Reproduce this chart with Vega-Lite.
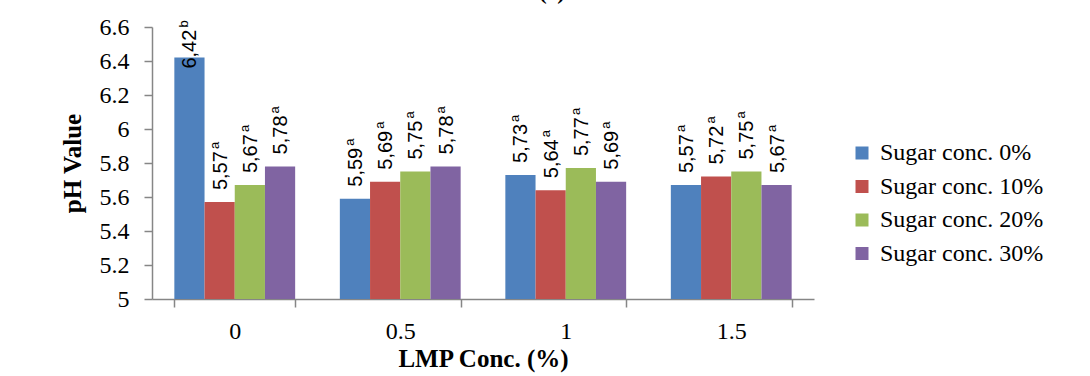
{
  "$schema": "https://vega.github.io/schema/vega-lite/v6.json",
  "width": 662,
  "height": 272,
  "autosize": "none",
  "padding": {"left": 152, "top": 27, "right": 276, "bottom": 77},
  "background": "white",
  "title": {
    "text": "(c)",
    "font": "Liberation Serif",
    "fontSize": 24,
    "fontWeight": "bold",
    "baseline": "alphabetic",
    "anchor": "middle",
    "offset": -8,
    "dx": 69,
    "color": "black"
  },
  "data": {
    "values": [
      {"lmp": "0", "sugar": "Sugar conc. 0%", "ph": 6.42, "lab": "6,42", "sup": "b"},
      {"lmp": "0", "sugar": "Sugar conc. 10%", "ph": 5.57, "lab": "5,57", "sup": "a"},
      {"lmp": "0", "sugar": "Sugar conc. 20%", "ph": 5.67, "lab": "5,67", "sup": "a"},
      {"lmp": "0", "sugar": "Sugar conc. 30%", "ph": 5.78, "lab": "5,78", "sup": "a"},
      {"lmp": "0.5", "sugar": "Sugar conc. 0%", "ph": 5.59, "lab": "5,59", "sup": "a"},
      {"lmp": "0.5", "sugar": "Sugar conc. 10%", "ph": 5.69, "lab": "5,69", "sup": "a"},
      {"lmp": "0.5", "sugar": "Sugar conc. 20%", "ph": 5.75, "lab": "5,75", "sup": "a"},
      {"lmp": "0.5", "sugar": "Sugar conc. 30%", "ph": 5.78, "lab": "5,78", "sup": "a"},
      {"lmp": "1", "sugar": "Sugar conc. 0%", "ph": 5.73, "lab": "5,73", "sup": "a"},
      {"lmp": "1", "sugar": "Sugar conc. 10%", "ph": 5.64, "lab": "5,64", "sup": "a"},
      {"lmp": "1", "sugar": "Sugar conc. 20%", "ph": 5.77, "lab": "5,77", "sup": "a"},
      {"lmp": "1", "sugar": "Sugar conc. 30%", "ph": 5.69, "lab": "5,69", "sup": "a"},
      {"lmp": "1.5", "sugar": "Sugar conc. 0%", "ph": 5.67, "lab": "5,57", "sup": "a"},
      {"lmp": "1.5", "sugar": "Sugar conc. 10%", "ph": 5.72, "lab": "5,72", "sup": "a"},
      {"lmp": "1.5", "sugar": "Sugar conc. 20%", "ph": 5.75, "lab": "5,75", "sup": "a"},
      {"lmp": "1.5", "sugar": "Sugar conc. 30%", "ph": 5.67, "lab": "5,67", "sup": "a"}
    ]
  },
  "encoding": {
    "x": {
      "field": "lmp",
      "type": "nominal",
      "sort": ["0", "0.5", "1", "1.5"],
      "scale": {"paddingInner": 0.27, "paddingOuter": 0.135},
      "title": "LMP Conc. (%)",
      "axis": {
        "labelAngle": 0,
        "tickBand": "extent",
        "tickSize": 8,
        "labelPadding": 12,
        "titlePadding": 3,
        "labelFont": "Liberation Serif",
        "labelFontSize": 24,
        "labelColor": "black",
        "titleFont": "Liberation Serif",
        "titleFontSize": 25,
        "titleFontWeight": "bold",
        "titleColor": "black",
        "domainColor": "#868686",
        "tickColor": "#868686",
        "domainWidth": 1.5,
        "tickWidth": 1.5,
        "grid": false
      }
    },
    "xOffset": {
      "field": "sugar",
      "type": "nominal",
      "sort": ["Sugar conc. 0%", "Sugar conc. 10%", "Sugar conc. 20%", "Sugar conc. 30%"]
    },
    "y": {
      "field": "ph",
      "type": "quantitative",
      "scale": {"domain": [5, 6.6], "zero": false, "nice": false},
      "title": "pH Value",
      "axis": {
        "values": [5, 5.2, 5.4, 5.6, 5.8, 6, 6.2, 6.4, 6.6],
        "format": "~g",
        "tickSize": 8,
        "labelPadding": 15,
        "titlePadding": 14,
        "labelFont": "Liberation Serif",
        "labelFontSize": 24,
        "labelColor": "black",
        "titleFont": "Liberation Serif",
        "titleFontSize": 25,
        "titleFontWeight": "bold",
        "titleColor": "black",
        "domainColor": "#868686",
        "tickColor": "#868686",
        "domainWidth": 1.5,
        "tickWidth": 1.5,
        "grid": false
      }
    }
  },
  "layer": [
    {
      "mark": {"type": "bar", "clip": true},
      "encoding": {
        "color": {
          "field": "sugar",
          "type": "nominal",
          "sort": ["Sugar conc. 0%", "Sugar conc. 10%", "Sugar conc. 20%", "Sugar conc. 30%"],
          "scale": {"range": ["#4F81BD", "#C0504D", "#9BBB59", "#8064A2"]},
          "legend": {
            "title": null,
            "orient": "none",
            "legendX": 698,
            "legendY": 114,
            "padding": 0,
            "symbolType": "square",
            "symbolSize": 169,
            "symbolStrokeWidth": 0,
            "labelFont": "Liberation Serif",
            "labelFontSize": 24,
            "labelColor": "black",
            "labelOffset": 6,
            "labelLimit": 400,
            "rowPadding": 9.5
          }
        }
      }
    },
    {
      "transform": [{"filter": "datum.ph < 6.3"}],
      "mark": {"type": "text", "angle": 270, "align": "left", "baseline": "middle", "dx": 12, "dy": 1, "font": "Liberation Sans", "fontSize": 20, "color": "black"},
      "encoding": {"text": {"field": "lab"}}
    },
    {
      "transform": [{"filter": "datum.ph < 6.3"}],
      "mark": {"type": "text", "angle": 270, "align": "left", "baseline": "middle", "dx": 53, "dy": -5, "font": "Liberation Sans", "fontSize": 13, "color": "black"},
      "encoding": {"text": {"field": "sup"}}
    },
    {
      "transform": [{"filter": "datum.ph >= 6.3"}],
      "mark": {"type": "text", "angle": 270, "align": "left", "baseline": "middle", "dx": -11, "dy": 1, "font": "Liberation Sans", "fontSize": 20, "color": "black"},
      "encoding": {"text": {"field": "lab"}}
    },
    {
      "transform": [{"filter": "datum.ph >= 6.3"}],
      "mark": {"type": "text", "angle": 270, "align": "left", "baseline": "middle", "dx": 30, "dy": -5, "font": "Liberation Sans", "fontSize": 13, "color": "black"},
      "encoding": {"text": {"field": "sup"}}
    }
  ],
  "config": {
    "view": {"stroke": null}
  }
}
